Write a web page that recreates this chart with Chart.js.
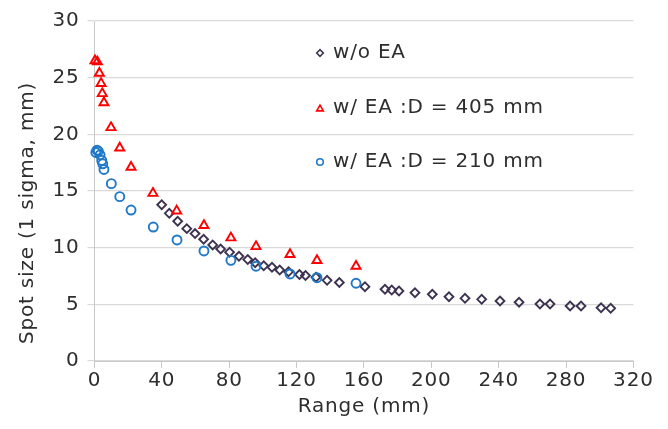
<!DOCTYPE html>
<html><head><meta charset="utf-8">
<script src="https://cdn.jsdelivr.net/npm/chart.js@4.4.1/dist/chart.umd.min.js"></script>
<style>html,body{margin:0;padding:0;background:#fff;overflow:hidden}canvas{display:block}</style>
</head><body>
<canvas id="c" width="668" height="429"></canvas>
<script>
// ---- data ----
const seriesLabels = ['w/o EA', 'w/ EA :D = 405 mm', 'w/ EA :D = 210 mm'];

const woEA_x = [39.9,44.4,49.4,54.8,59.7,64.8,70.2,74.9,80.2,85.8,91.0,95.4,100.5,105.4,110.0,115.2,121.7,125.3,131.5,138.1,145.4,160.6,172.5,176.5,180.8,190.3,200.6,210.5,220.0,229.9,240.8,252.1,264.5,270.5,282.4,288.9,300.8,306.5];
const woEA_y = [13.79,13.03,12.33,11.68,11.24,10.74,10.24,9.88,9.6,9.24,8.95,8.67,8.4,8.27,8.03,7.87,7.63,7.54,7.39,7.12,6.93,6.56,6.33,6.26,6.18,6.03,5.89,5.67,5.53,5.44,5.29,5.18,5.03,5.03,4.85,4.85,4.70,4.65];

const ea405_x = [0.3,1.7,2.9,3.9,4.6,5.6,9.8,15,21.7,34.7,48.8,65,81,95.9,116.1,132.1,155.3];
const ea405_y = [26.5,26.4,25.4,24.5,23.6,22.8,20.6,18.8,17.1,14.8,13.25,11.96,10.87,10.1,9.4,8.87,8.37];

const ea210_x = [0.8,1.5,2.3,3.3,4.3,4.9,5.6,10,15,21.7,34.9,49,65,81,95.9,116.1,132.1,155.3];
const ea210_y = [18.4,18.6,18.5,18.2,17.7,17.4,16.9,15.65,14.5,13.32,11.82,10.68,9.71,8.88,8.36,7.68,7.35,6.86];

const xTickValues = [0,40,80,120,160,200,240,280,320];
const yTickValues = [0,5,10,15,20,25,30];
const xTitle = 'Range (mm)';
const yTitle = 'Spot size (1 sigma, mm)';

// ---- styling ----
const FONT = '"DejaVu Sans", Verdana, sans-serif';
const TEXT = '#2e2e2e';
const SPACING = '0.8px';
const FS = 20;
const pts = (xs, ys) => xs.map((x, i) => ({x, y: ys[i]}));

const spacingPlugin = {
  id: 'spacing',
  afterInit(c) { c.ctx.letterSpacing = SPACING; },
  beforeUpdate(c) { c.ctx.letterSpacing = SPACING; },
  beforeDraw(c) { c.ctx.letterSpacing = SPACING; }
};

const legendPlugin = {
  id: 'insideLegend',
  afterDraw(chart) {
    const ctx = chart.ctx;
    const rows = [53, 108, 162];
    const mx = 320, tx = 333;
    ctx.save();
    ctx.letterSpacing = SPACING;
    chart.data.datasets.forEach((ds, i) => {
      const y = rows[i];
      ctx.strokeStyle = ds.borderColor;
      ctx.fillStyle = 'rgba(0,0,0,0)';
      ctx.lineWidth = 1.6;
      const r = ds.pointStyle === 'triangle' ? 3.8 : 3.3;
      Chart.helpers.drawPoint(ctx, {pointStyle: ds.pointStyle, radius: r, borderWidth: 1.6, rotation: 0}, mx, ds.pointStyle === 'triangle' ? y + 1 : y);
      ctx.fillStyle = TEXT;
      ctx.font = FS + 'px ' + FONT;
      ctx.textAlign = 'left';
      ctx.textBaseline = 'middle';
      ctx.fillText(ds.label, tx, y);
    });
    // y axis title
    ctx.translate(28, 213);
    ctx.rotate(-Math.PI / 2);
    ctx.textAlign = 'center';
    ctx.textBaseline = 'middle';
    ctx.fillText(yTitle, 0, 0);
    ctx.restore();
  }
};

new Chart(document.getElementById('c'), {
  type: 'scatter',
  data: {
    datasets: [
      {label: seriesLabels[0], data: pts(woEA_x, woEA_y), pointStyle: 'rectRot', radius: 4.4,
       borderColor: '#3d3350', backgroundColor: 'rgba(0,0,0,0)', borderWidth: 1.9, order: 2, clip: false},
      {label: seriesLabels[1], data: pts(ea405_x, ea405_y), pointStyle: 'triangle', radius: 5.2,
       borderColor: '#ff0000', backgroundColor: 'rgba(0,0,0,0)', borderWidth: 1.9, order: 1, clip: false},
      {label: seriesLabels[2], data: pts(ea210_x, ea210_y), pointStyle: 'circle', radius: 4.5,
       borderColor: '#1f78c8', backgroundColor: 'rgba(0,0,0,0)', borderWidth: 1.9, order: 0, clip: false}
    ]
  },
  options: {
    responsive: false,
    animation: false,
    events: [],
    layout: {autoPadding: false, padding: {left: 0, top: 21, right: 34.6, bottom: 0}},
    plugins: {legend: {display: false}, tooltip: {enabled: false}},
    scales: {
      x: {
        type: 'linear', min: 0, max: 320,
        afterBuildTicks: s => { s.ticks = xTickValues.map(v => ({value: v})); },
        afterFit: s => { s.height = 68; },
        grid: {drawOnChartArea: false, drawTicks: true, tickLength: 7, color: '#c8c8c8'},
        border: {color: '#c8c8c8'},
        ticks: {color: TEXT, font: {family: FONT, size: FS}, padding: 1, maxRotation: 0},
        title: {display: true, text: xTitle, color: TEXT, font: {family: FONT, size: FS}, padding: {top: 0, bottom: 10}}
      },
      y: {
        type: 'linear', min: 0, max: 30,
        afterBuildTicks: s => { s.ticks = yTickValues.map(v => ({value: v})); },
        afterFit: s => { s.width = 94.5; },
        grid: {color: '#d9d9d9', tickLength: 7, lineWidth: 1.2},
        border: {color: '#c8c8c8'},
        ticks: {color: TEXT, font: {family: FONT, size: FS}, padding: 8}
      }
    }
  },
  plugins: [spacingPlugin, legendPlugin]
});
</script>
</body></html>
